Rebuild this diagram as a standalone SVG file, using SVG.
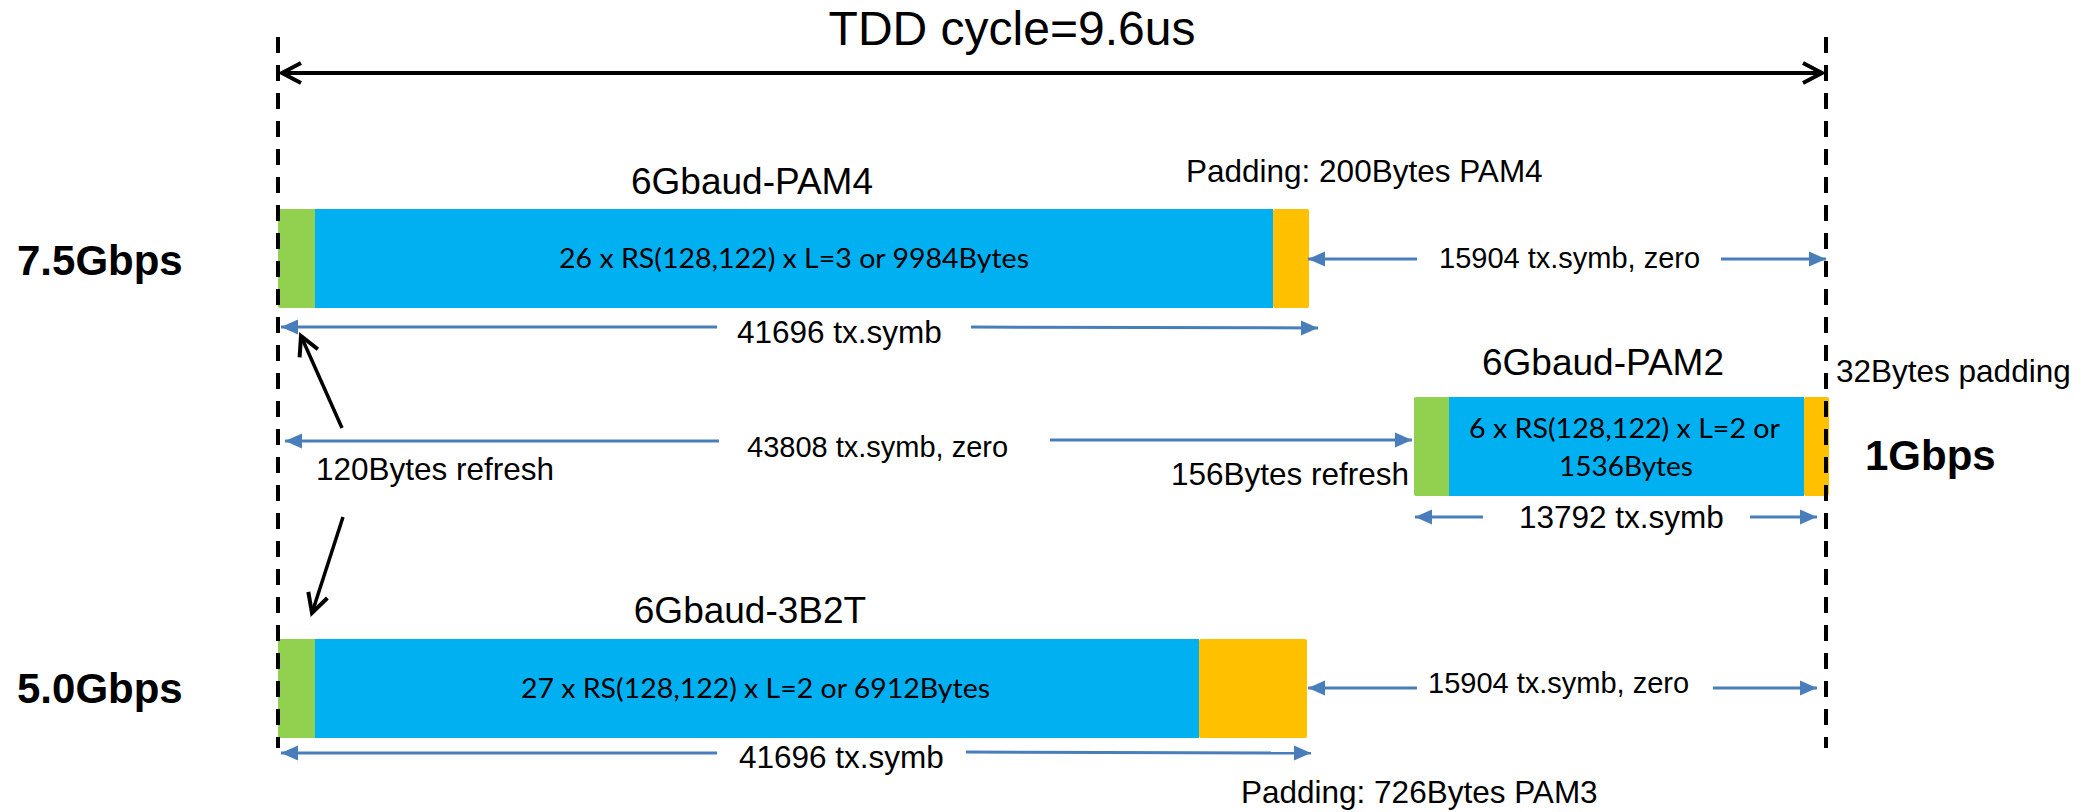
<svg xmlns="http://www.w3.org/2000/svg" width="2093" height="812" viewBox="0 0 2093 812">
  <style>
    .lbl { font-family: "Liberation Sans", Arial, sans-serif; fill: #000; }
    .inner { font-family: Lato, "Open Sans", sans-serif; font-size: 27px; fill: #000; }
    .bold { font-family: "Liberation Sans", Arial, sans-serif; font-weight: bold; font-size: 42px; fill: #000; }
    .green { fill: #92D050; }
    .blue { fill: #00B0F0; }
    .yellow { fill: #FFC000; }
    .blink { stroke: #4A7EBB; stroke-width: 3; fill: none; marker-end: url(#bArrow); }
    .dash { stroke: #000; stroke-width: 4; stroke-dasharray: 16 12; fill: none; }
    .blk { stroke: #000; stroke-width: 3.5; fill: none; marker-end: url(#chev); }
  </style>
  <defs>
    <marker id="bArrow" markerUnits="userSpaceOnUse" markerWidth="18" markerHeight="16" refX="17" refY="7.5" orient="auto" overflow="visible">
      <path d="M0,0 L17,7.5 L0,15 Z" fill="#4A7EBB"/>
    </marker>
    <marker id="chev" markerUnits="userSpaceOnUse" markerWidth="24" markerHeight="26" refX="20" refY="11" orient="auto-start-reverse" overflow="visible">
      <path d="M1,1 L20,11 L1,21" fill="none" stroke="#000" stroke-width="4"/>
    </marker>
  </defs>

  <rect width="2093" height="812" fill="#fff"/>

  <g id="title">
    <text class="lbl" x="1012" y="45" font-size="48" text-anchor="middle">TDD cycle=9.6us</text>
  </g>

  <g id="row1">
    <rect class="green" x="278" y="209" width="39" height="99" rx="2"/>
    <rect class="blue" x="315" y="209" width="958" height="99"/>
    <rect class="yellow" x="1273" y="209" width="36" height="99" rx="2"/>
    <text class="lbl" x="752" y="194" font-size="37" text-anchor="middle">6Gbaud-PAM4</text>
    <text class="inner" x="559" y="268" textLength="470" lengthAdjust="spacingAndGlyphs">26 x RS(128,122) x L=3 or 9984Bytes</text>
    <text class="lbl" x="1186" y="182" font-size="31.5">Padding: 200Bytes PAM4</text>
    <text class="bold" x="17" y="275">7.5Gbps</text>
  </g>

  <g id="row2">
    <rect class="green" x="1414" y="397" width="38" height="99" rx="2"/>
    <rect class="blue" x="1449" y="397" width="355" height="99"/>
    <rect class="yellow" x="1804" y="397" width="25" height="99" rx="2"/>
    <text class="lbl" x="1603" y="375" font-size="37" text-anchor="middle">6Gbaud-PAM2</text>
    <text class="inner" x="1469" y="438" textLength="311" lengthAdjust="spacingAndGlyphs">6 x RS(128,122) x L=2 or</text>
    <text class="inner" x="1559" y="476" textLength="134" lengthAdjust="spacingAndGlyphs">1536Bytes</text>
    <text class="lbl" x="1836" y="382" font-size="31.5">32Bytes padding</text>
    <text class="lbl" x="1171" y="485" font-size="31.5">156Bytes refresh</text>
    <text class="bold" x="1865" y="470">1Gbps</text>
  </g>

  <g id="row3">
    <rect class="green" x="278" y="639" width="39" height="99" rx="2"/>
    <rect class="blue" x="315" y="639" width="884" height="99"/>
    <rect class="yellow" x="1199" y="639" width="108" height="99" rx="2"/>
    <text class="lbl" x="750" y="623" font-size="37" text-anchor="middle">6Gbaud-3B2T</text>
    <text class="inner" x="521" y="698" textLength="469" lengthAdjust="spacingAndGlyphs">27 x RS(128,122) x L=2 or 6912Bytes</text>
    <text class="lbl" x="1241" y="803" font-size="31.5">Padding: 726Bytes PAM3</text>
    <text class="bold" x="17" y="703">5.0Gbps</text>
  </g>

  <g id="refresh">
    <text class="lbl" x="316" y="480" font-size="31.5">120Bytes refresh</text>
  </g>

  <g id="connectors">
    <line class="dash" x1="278" y1="37" x2="278" y2="748"/>
    <line class="dash" x1="1826" y1="37" x2="1826" y2="748"/>
    <line x1="282" y1="73" x2="1822" y2="73" stroke="#000" stroke-width="4" marker-start="url(#chev)" marker-end="url(#chev)"/>

    <line class="blink" x1="717" y1="327" x2="281" y2="327"/>
    <line class="blink" x1="971" y1="327" x2="1318" y2="328"/>
    <text class="lbl" x="737" y="343" font-size="31.5">41696 tx.symb</text>

    <line class="blink" x1="1417" y1="259" x2="1308" y2="259"/>
    <line class="blink" x1="1721" y1="259" x2="1826" y2="259"/>
    <text class="lbl" x="1439" y="268" font-size="29">15904 tx.symb, zero</text>

    <line class="blink" x1="719" y1="441" x2="285" y2="441"/>
    <line class="blink" x1="1050" y1="440" x2="1412" y2="440"/>
    <text class="lbl" x="747" y="457" font-size="29">43808 tx.symb, zero</text>

    <line class="blink" x1="1483" y1="517" x2="1415" y2="517"/>
    <line class="blink" x1="1750" y1="517" x2="1817" y2="517"/>
    <text class="lbl" x="1519" y="528" font-size="31.5">13792 tx.symb</text>

    <line class="blink" x1="1417" y1="688" x2="1308" y2="688"/>
    <line class="blink" x1="1713" y1="688" x2="1817" y2="688"/>
    <text class="lbl" x="1428" y="693" font-size="29">15904 tx.symb, zero</text>

    <line class="blink" x1="717" y1="753" x2="281" y2="753"/>
    <line class="blink" x1="966" y1="752" x2="1311" y2="753"/>
    <text class="lbl" x="739" y="768" font-size="31.5">41696 tx.symb</text>

    <line class="blk" x1="342" y1="428" x2="301" y2="336"/>
    <line class="blk" x1="343" y1="517" x2="312" y2="613"/>
  </g>
</svg>
